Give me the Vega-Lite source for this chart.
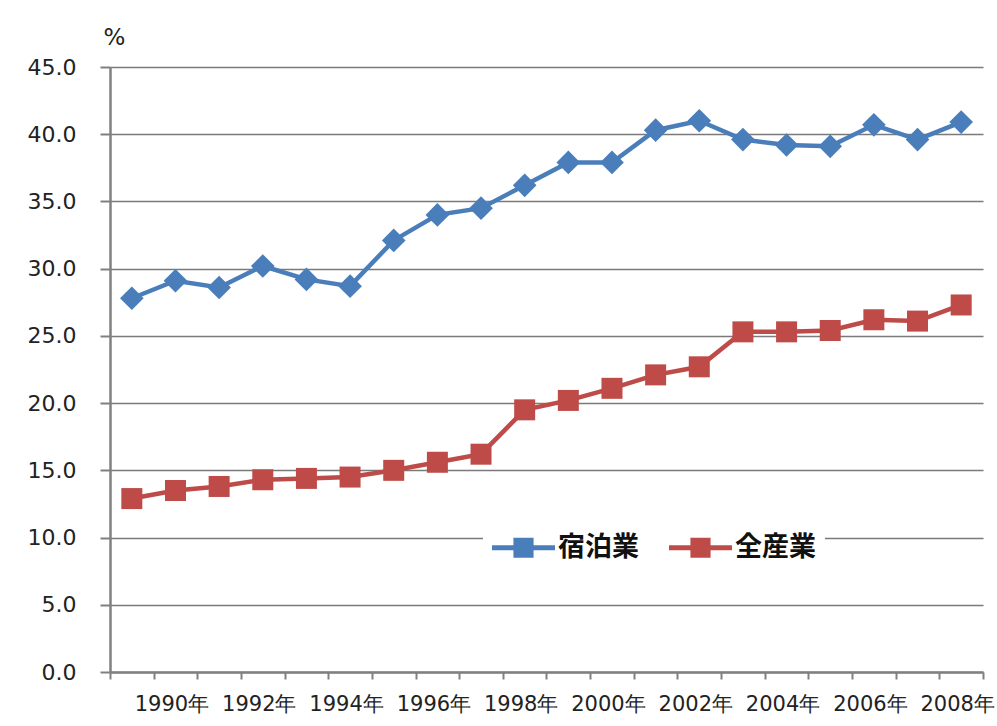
{
  "$schema": "https://vega.github.io/schema/vega-lite/v6.json",
  "autosize": "none",
  "width": 873,
  "height": 605,
  "padding": {"left": 110, "top": 67, "right": 14, "bottom": 54},
  "background": "white",
  "config": {"view": {"stroke": null}},
  "data": {
    "values": [
      {"year": 1989, "series": "宿泊業", "value": 27.8},
      {"year": 1990, "series": "宿泊業", "value": 29.1},
      {"year": 1991, "series": "宿泊業", "value": 28.6},
      {"year": 1992, "series": "宿泊業", "value": 30.2},
      {"year": 1993, "series": "宿泊業", "value": 29.2},
      {"year": 1994, "series": "宿泊業", "value": 28.7},
      {"year": 1995, "series": "宿泊業", "value": 32.1},
      {"year": 1996, "series": "宿泊業", "value": 34.0},
      {"year": 1997, "series": "宿泊業", "value": 34.5},
      {"year": 1998, "series": "宿泊業", "value": 36.2},
      {"year": 1999, "series": "宿泊業", "value": 37.9},
      {"year": 2000, "series": "宿泊業", "value": 37.9},
      {"year": 2001, "series": "宿泊業", "value": 40.3},
      {"year": 2002, "series": "宿泊業", "value": 41.0},
      {"year": 2003, "series": "宿泊業", "value": 39.6},
      {"year": 2004, "series": "宿泊業", "value": 39.2},
      {"year": 2005, "series": "宿泊業", "value": 39.1},
      {"year": 2006, "series": "宿泊業", "value": 40.7},
      {"year": 2007, "series": "宿泊業", "value": 39.6},
      {"year": 2008, "series": "宿泊業", "value": 40.9},
      {"year": 1989, "series": "全産業", "value": 12.9},
      {"year": 1990, "series": "全産業", "value": 13.5},
      {"year": 1991, "series": "全産業", "value": 13.8},
      {"year": 1992, "series": "全産業", "value": 14.3},
      {"year": 1993, "series": "全産業", "value": 14.4},
      {"year": 1994, "series": "全産業", "value": 14.5},
      {"year": 1995, "series": "全産業", "value": 15.0},
      {"year": 1996, "series": "全産業", "value": 15.6},
      {"year": 1997, "series": "全産業", "value": 16.2},
      {"year": 1998, "series": "全産業", "value": 19.5},
      {"year": 1999, "series": "全産業", "value": 20.2},
      {"year": 2000, "series": "全産業", "value": 21.1},
      {"year": 2001, "series": "全産業", "value": 22.1},
      {"year": 2002, "series": "全産業", "value": 22.7},
      {"year": 2003, "series": "全産業", "value": 25.3},
      {"year": 2004, "series": "全産業", "value": 25.3},
      {"year": 2005, "series": "全産業", "value": 25.4},
      {"year": 2006, "series": "全産業", "value": 26.2},
      {"year": 2007, "series": "全産業", "value": 26.1},
      {"year": 2008, "series": "全産業", "value": 27.3}
    ]
  },
  "encoding": {
    "x": {
      "field": "year",
      "type": "ordinal",
      "bandPosition": 0.5,
      "scale": {"type": "band", "paddingInner": 0, "paddingOuter": 0},
      "axis": {
        "title": null,
        "tickBand": "extent",
        "grid": false,
        "labelAngle": 0,
        "labelOverlap": false,
        "labelExpr": "datum.value % 2 == 0 ? datum.value + '年' : ''",
        "labelFont": "DejaVu Sans",
        "labelFontSize": 21,
        "labelColor": "#222222",
        "labelPadding": 14,
        "labelOffset": -4,
        "tickSize": 7,
        "tickWidth": 2,
        "tickColor": "#808080",
        "domainColor": "#808080",
        "domainWidth": 2.5
      }
    },
    "y": {
      "field": "value",
      "type": "quantitative",
      "scale": {"domain": [0, 45], "nice": false},
      "axis": {
        "values": [0, 5, 10, 15, 20, 25, 30, 35, 40, 45],
        "format": ".1f",
        "title": "%",
        "titleAngle": 0,
        "titleAlign": "center",
        "titleBaseline": "middle",
        "titleX": 4,
        "titleY": -30,
        "titleFont": "DejaVu Sans",
        "titleFontSize": 23,
        "titleFontWeight": "normal",
        "titleColor": "#222222",
        "labelFont": "DejaVu Sans",
        "labelFontSize": 22,
        "labelColor": "#222222",
        "labelPadding": 24,
        "tickSize": 10,
        "tickWidth": 2,
        "tickColor": "#808080",
        "domainColor": "#808080",
        "domainWidth": 2.5,
        "gridColor": "#7a7a7a",
        "gridWidth": 1.5
      }
    },
    "color": {
      "field": "series",
      "type": "nominal",
      "sort": ["宿泊業", "全産業"],
      "scale": {"domain": ["宿泊業", "全産業"], "range": ["#4A7EBB", "#BE4B48"]},
      "legend": {
        "title": null,
        "orient": "none",
        "direction": "horizontal",
        "legendX": 373,
        "legendY": 440,
        "padding": 9,
        "fillColor": "white",
        "symbolType": "M-1,-0.08H1V0.08H-1Z M-0.32,-0.32H0.32V0.32H-0.32Z",
        "symbolSize": 3969,
        "symbolStrokeWidth": 0,
        "labelFont": "Noto Sans CJK JP",
        "labelFontSize": 27,
        "labelFontWeight": "bold",
        "labelColor": "#111111",
        "labelOffset": 3,
        "columnPadding": 30,
        "encode": {
          "symbols": {
            "update": {
              "fill": {"signal": "datum.value == '宿泊業' ? '#1E5DAF' : '#A91D1D'"},
              "stroke": {"value": "transparent"},
              "strokeWidth": {"value": 0},
              "opacity": {"value": 1}
            }
          }
        }
      }
    }
  },
  "layer": [
    {
      "mark": {"type": "line", "strokeWidth": 4.5}
    },
    {
      "transform": [{"filter": "datum.series == '宿泊業'"}],
      "mark": {"type": "point", "filled": true, "opacity": 1, "shape": "diamond", "size": 560}
    },
    {
      "transform": [{"filter": "datum.series == '全産業'"}],
      "mark": {"type": "point", "filled": true, "opacity": 1, "shape": "square", "size": 441}
    }
  ]
}
